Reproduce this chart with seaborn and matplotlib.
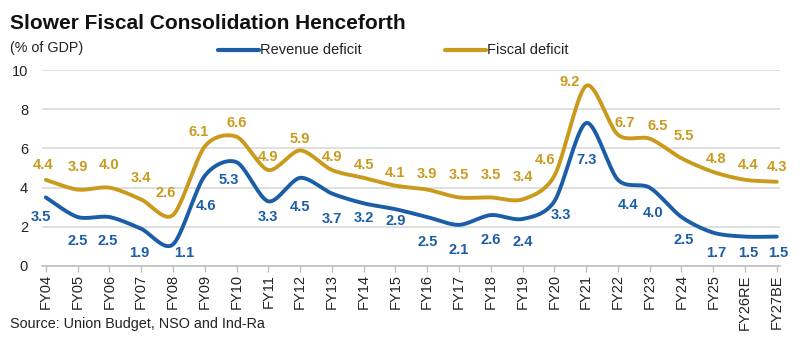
import numpy as np
import pandas as pd
import matplotlib
matplotlib.use("Agg")
import matplotlib.pyplot as plt
import seaborn as sns
from matplotlib.lines import Line2D

years = ["FY04", "FY05", "FY06", "FY07", "FY08", "FY09", "FY10", "FY11", "FY12", "FY13",
         "FY14", "FY15", "FY16", "FY17", "FY18", "FY19", "FY20", "FY21", "FY22", "FY23",
         "FY24", "FY25", "FY26RE", "FY27BE"]
revenue_deficit = [3.5, 2.5, 2.5, 1.9, 1.1, 4.6, 5.3, 3.3, 4.5, 3.7, 3.2, 2.9, 2.5, 2.1,
                   2.6, 2.4, 3.3, 7.3, 4.4, 4.0, 2.5, 1.7, 1.5, 1.5]
fiscal_deficit = [4.4, 3.9, 4.0, 3.4, 2.6, 6.1, 6.6, 4.9, 5.9, 4.9, 4.5, 4.1, 3.9, 3.5,
                  3.5, 3.4, 4.6, 9.2, 6.7, 6.5, 5.5, 4.8, 4.4, 4.3]
yticks = [0, 2, 4, 6, 8, 10]

# label placement (pixel offsets from each point: dx right, dy away from line)
fiscal_dx = [-3, 0, 0, 0, -7, -6, 0, 0, 0, 0, 0, 0, 0, 0, 0, 0, -9, -16, 7, 8, 2, 3, 3, 0]
fiscal_dy = [15, 23, 23, 21, 22, 14, 14, 13, 11, 13, 13, 13, 16, 22, 22, 22, 16, 4, 12, 13, 22, 13, 15, 15]
revenue_dx = [-5, 0, -2, -2, 11, 1, -8, 0, 0, 0, 0, 0, 0, 0, 0, 0, 7, 0, 10, 3, 2, 3, 3, 1]
revenue_dy = [20, 24, 24, 24, 9, 30, 18, 16, 29, 25, 15, 12, 25, 25, 25, 23, 14, 37, 25, 25, 23, 20, 16, 16]

BLUE = "#1B5DA6"
GOLD = "#C99A1C"
TXT = "#222222"

sns.set_theme(style="white")
plt.rcParams["font.family"] = ["Liberation Sans", "DejaVu Sans"]


def smooth(y, n=20):
    """Cardinal-spline smoothing of a series for display."""
    y = np.asarray(y, float)
    x = np.arange(len(y), dtype=float)
    px = np.concatenate([[x[0]], x, [x[-1]]])
    py = np.concatenate([[y[0]], y, [y[-1]]])
    xs, ys = [], []
    t = np.linspace(0, 1, n, endpoint=False)
    h00 = 2 * t**3 - 3 * t**2 + 1
    h10 = t**3 - 2 * t**2 + t
    h01 = -2 * t**3 + 3 * t**2
    h11 = t**3 - t**2
    for i in range(1, len(px) - 2):
        def cr(a0, a1, a2, a3):
            m1 = (a2 - a0) / 2.0 * 0.85
            m2 = (a3 - a1) / 2.0 * 0.85
            return h00 * a1 + h10 * m1 + h01 * a2 + h11 * m2
        xs.append(cr(*px[i - 1:i + 3]))
        ys.append(cr(*py[i - 1:i + 3]))
    xs.append([x[-1]])
    ys.append([y[-1]])
    return np.concatenate(xs), np.concatenate(ys)


fig = plt.figure(figsize=(8.0, 3.54), dpi=100)
ax = fig.add_axes([0.0525, 0.2486, 0.9225, 0.5534])

frames = []
for name, vals in [("Revenue deficit", revenue_deficit), ("Fiscal deficit", fiscal_deficit)]:
    sx, sy = smooth(vals)
    frames.append(pd.DataFrame({"x": sx, "y": sy, "series": name}))
df = pd.concat(frames, ignore_index=True)

sns.lineplot(data=df, x="x", y="y", hue="series",
             palette={"Revenue deficit": BLUE, "Fiscal deficit": GOLD},
             linewidth=2.8, ax=ax, legend=False, sort=False, estimator=None)

PX = 0.72  # points per pixel at 100 dpi
for i, v in enumerate(fiscal_deficit):
    ax.annotate(f"{v:.1f}", (i, v), xytext=(fiscal_dx[i] * PX, fiscal_dy[i] * PX),
                textcoords="offset points", ha="center", va="center",
                fontsize=10.5, fontweight="bold", color=GOLD, annotation_clip=False)
for i, v in enumerate(revenue_deficit):
    ax.annotate(f"{v:.1f}", (i, v), xytext=(revenue_dx[i] * PX, -revenue_dy[i] * PX),
                textcoords="offset points", ha="center", va="center",
                fontsize=10.5, fontweight="bold", color=BLUE, annotation_clip=False)

ax.set_xlim(-0.12, len(years) - 1 + 0.1)
ax.set_ylim(0, 10)
ax.set_yticks(yticks)
ax.set_yticklabels([str(t) for t in yticks], fontsize=10.5, color=TXT)
ax.set_xticks(range(len(years)))
ax.set_xticklabels(years, rotation=90, fontsize=10.5, color=TXT)
ax.grid(axis="y", color="#D9D9D9", linewidth=1.2)
ax.set_axisbelow(True)
for s in ["left", "right", "top"]:
    ax.spines[s].set_visible(False)
ax.spines["bottom"].set_color("#BFBFBF")
ax.spines["bottom"].set_linewidth(1.2)
ax.tick_params(axis="x", bottom=True, length=4, color="#BFBFBF", width=1, pad=2)
ax.tick_params(axis="y", left=False, pad=4)
ax.set_xlabel("")
ax.set_ylabel("")

fig.text(0.0125, 0.935, "Slower Fiscal Consolidation Henceforth", fontsize=15,
         fontweight="bold", color="#111111", va="center", ha="left")
fig.text(0.0125, 0.865, "(% of GDP)", fontsize=10.3, color=TXT, va="center", ha="left")
fig.text(0.0125, 0.085, "Source: Union Budget, NSO and Ind-Ra", fontsize=10.4,
         color=TXT, va="center", ha="left")

for x0, label, col in [(0.2725, "Revenue deficit", BLUE), (0.556, "Fiscal deficit", GOLD)]:
    fig.add_artist(Line2D([x0, x0 + 0.051], [0.858, 0.858], color=col, linewidth=3,
                          transform=fig.transFigure))
    fig.text(x0 + 0.053, 0.858, label, fontsize=10.5, color=TXT, va="center", ha="left")

fig.savefig("out.png", dpi=100)
